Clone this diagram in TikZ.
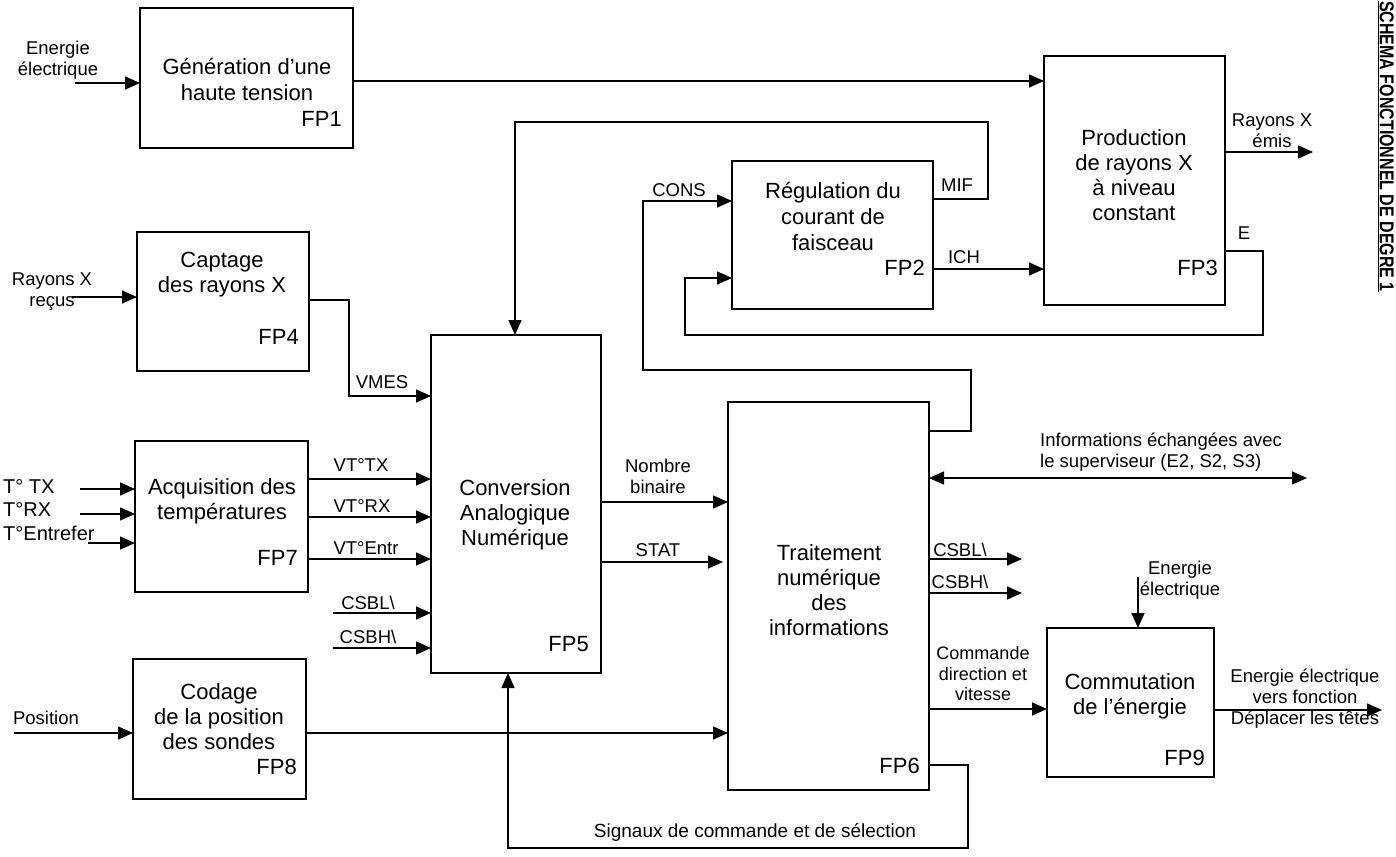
\documentclass[tikz,border=0pt]{standalone}
\usepackage{fontspec}
\setmainfont{Liberation Sans}
\usetikzlibrary{arrows.meta}
\begin{document}
\begin{tikzpicture}[x=1pt,y=-1pt,
  box/.style={draw, line width=1.5pt, inner sep=0pt, outer sep=0pt, anchor=north west},
  ln/.style={line width=1.5pt},
  arr/.style={ln, -{Triangle[length=15pt,width=13pt]}},
  darr/.style={ln, {Triangle[length=15pt,width=13pt]}-{Triangle[length=15pt,width=13pt]}},
  btxt/.style={font=\fontsize{22}{25}\selectfont, align=center, inner sep=0pt},
  fpl/.style={font=\fontsize{22}{25}\selectfont, anchor=east, inner sep=0pt},
  lbl/.style={font=\fontsize{18.5}{21}\selectfont, align=center, inner sep=0pt},
  tlbl/.style={font=\fontsize{20}{22}\selectfont, anchor=west, inner sep=0pt},
]
\fill[white] (0,0) rectangle (1396,856);
\useasboundingbox (0,0) rectangle (1396,856);

% ---------- boxes ----------
\node[box, minimum width=213pt, minimum height=140pt] (fp1) at (140,8) {};
\node[btxt, font=\fontsize{22}{26}\selectfont] (t1) at (247,80) {Génération d’une\\haute tension};
\node[fpl] (n1) at (342,119) {FP1};

\node[box, minimum width=181pt, minimum height=249pt] (fp3) at (1044,56) {};
\node[btxt] (t3) at (1134,175) {Production\\de rayons X\\à niveau\\constant};
\node[fpl] (n3) at (1218,268) {FP3};

\node[box, minimum width=201pt, minimum height=148pt] (fp2) at (732,161) {};
\node[btxt, font=\fontsize{22}{26}\selectfont] (t2) at (833,217) {Régulation du\\courant de\\faisceau};
\node[fpl] (n2) at (925,268) {FP2};

\node[box, minimum width=172pt, minimum height=139pt] (fp4) at (137,232) {};
\node[btxt] (t4) at (222,275) {Captage\\des rayons X};
\node[fpl] (n4) at (299,337) {FP4};

\node[box, minimum width=170pt, minimum height=338pt] (fp5) at (431,335) {};
\node[btxt] (t5) at (515,515) {Conversion\\Analogique\\Numérique};
\node[fpl] (n5) at (589,644) {FP5};

\node[box, minimum width=201pt, minimum height=388pt] (fp6) at (728,402) {};
\node[btxt] (t6) at (829,590) {Traitement\\numérique\\des\\informations};
\node[fpl] (n6) at (920,766) {FP6};

\node[box, minimum width=173pt, minimum height=151pt] (fp7) at (135,441) {};
\node[btxt] (t7) at (222,501) {Acquisition des\\températures};
\node[fpl] (n7) at (298,558) {FP7};

\node[box, minimum width=173pt, minimum height=140pt] (fp8) at (133,659) {};
\node[btxt] (t8) at (219,717) {Codage\\de la position\\des sondes};
\node[fpl] (n8) at (297,767) {FP8};

\node[box, minimum width=167pt, minimum height=149pt] (fp9) at (1047,628) {};
\node[btxt] (t9) at (1130,696) {Commutation\\de l’énergie};
\node[fpl] (n9) at (1205,758) {FP9};

% ---------- FP1 ----------
\coordinate (e1) at (75,83);
\node[lbl] (le1) at (58,60) {Energie\\électrique};
\draw[arr] (e1) -- (fp1.west |- e1);
\draw[arr] (fp1.east |- 0,81) -- (fp3.west |- 0,81);

% ---------- FP3 ----------
\coordinate (rxe) at (1313,152);
\node[lbl] (lrx) at (1272,131) {Rayons X\\émis};
\draw[arr] (fp3.east |- rxe) -- (rxe);
\node[lbl] (lE) at (1244,233) {E};
\draw[arr] (fp3.east |- 0,251) -- (1263,251) -- (1263,335) -- (685,335) -- (685,278) -- (fp2.west |- 0,278);

% ---------- FP2 ----------
\node[lbl] (lmif) at (957,185) {MIF};
\draw[arr] (fp2.east |- 0,199) -- (988,199) -- (988,122) -- (515,122) -- (515,0 |- fp5.north);
\node[lbl] (lich) at (964,257) {ICH};
\draw[arr] (fp2.east |- 0,269) -- (fp3.west |- 0,269);
\node[lbl] (lcons) at (679,190) {CONS};
\draw[arr] (fp6.east |- 0,431) -- (971,431) -- (971,370) -- (643,370) -- (643,201) -- (fp2.west |- 0,201);

% ---------- FP4 ----------
\coordinate (rxr) at (72,297);
\node[lbl] (lrxr) at (52,292) {Rayons X\\reçus};
\draw[arr] (rxr) -- (fp4.west |- rxr);
\node[lbl] (lvmes) at (382,382) {VMES};
\draw[arr] (fp4.east |- 0,300) -- (349,300) -- (349,396) -- (fp5.west |- 0,396);

% ---------- FP7 ----------
\coordinate (ttx) at (80,489);
\coordinate (trx) at (80,514);
\coordinate (tent) at (88,543);
\node[tlbl] (lttx) at (3,487) {T° TX};
\node[tlbl] (ltrx) at (3,510) {T°RX};
\node[tlbl] (ltent) at (3,533) {T°Entrefer};
\draw[arr] (ttx) -- (fp7.west |- ttx);
\draw[arr] (trx) -- (fp7.west |- trx);
\draw[arr] (tent) -- (fp7.west |- tent);

\node[lbl] (lvtx) at (361,465) {VT°TX};
\node[lbl] (lvrx) at (362,506) {VT°RX};
\node[lbl] (lvent) at (366,548) {VT°Entr};
\draw[arr] (fp7.east |- 0,479) -- (fp5.west |- 0,479);
\draw[arr] (fp7.east |- 0,517) -- (fp5.west |- 0,517);
\draw[arr] (fp7.east |- 0,559) -- (fp5.west |- 0,559);

\coordinate (cl5) at (333,613);
\coordinate (ch5) at (333,648);
\node[lbl] (lcl5) at (368,603) {CSBL\textbackslash};
\node[lbl] (lch5) at (368,637) {CSBH\textbackslash};
\draw[arr] (cl5) -- (fp5.west |- cl5);
\draw[arr] (ch5) -- (fp5.west |- ch5);

% ---------- FP5 -> FP6 ----------
\node[lbl] (lnb) at (658,476) {Nombre\\binaire};
\draw[arr] (fp5.east |- 0,502) -- (fp6.west |- 0,502);
\node[lbl] (lstat) at (658,550) {STAT};
\coordinate (st6) at (723,562);
\draw[arr] (fp5.east |- st6) -- (st6);

% ---------- FP6 right ----------
\coordinate (sup) at (1307,478);
\node[lbl, align=left, anchor=west] (lsup) at (1040,452) {Informations échangées avec\\le superviseur (E2, S2, S3)};
\draw[darr] (fp6.east |- sup) -- (sup);

\coordinate (cl6) at (1022,559);
\coordinate (ch6) at (1022,593);
\node[lbl] (lcl6) at (960,550) {CSBL\textbackslash};
\node[lbl] (lch6) at (960,582) {CSBH\textbackslash};
\draw[arr] (fp6.east |- cl6) -- (cl6);
\draw[arr] (fp6.east |- ch6) -- (ch6);

\node[lbl, font=\fontsize{18}{20.5}\selectfont] (lcmd) at (983,674) {Commande\\direction et\\vitesse};
\draw[arr] (fp6.east |- 0,709) -- (fp9.west |- 0,709);

% ---------- FP9 ----------
\coordinate (e9) at (1138,577);
\node[lbl] (le9) at (1180,580) {Energie\\électrique};
\draw[arr] (e9) -- (fp9.north -| e9);
\coordinate (out9) at (1382,710);
\node[lbl] (lout9) at (1305,699) {Energie électrique\\vers fonction\\Déplacer les têtes};
\draw[arr] (fp9.east |- out9) -- (out9);

% ---------- FP8 ----------
\coordinate (pos) at (14,733);
\node[lbl] (lpos) at (46,718) {Position};
\draw[arr] (pos) -- (fp8.west |- pos);
\draw[arr] (fp8.east |- 0,733) -- (fp6.west |- 0,733);

\node[lbl, font=\fontsize{19}{21}\selectfont] (lsig) at (755,832) {Signaux de commande et de sélection};
\draw[arr] (fp6.east |- 0,765) -- (968,765) -- (968,848) -- (508,848) -- (508,0 |- fp5.south);

% ---------- title ----------
\node[rotate=-90, anchor=north west, inner sep=0pt, font=\fontsize{20}{22}\selectfont\bfseries] (title) at (1394,1) {\scalebox{0.8}[1]{\underline{SCHEMA FONCTIONNEL DE DEGRE 1}}};
\end{tikzpicture}
\end{document}
